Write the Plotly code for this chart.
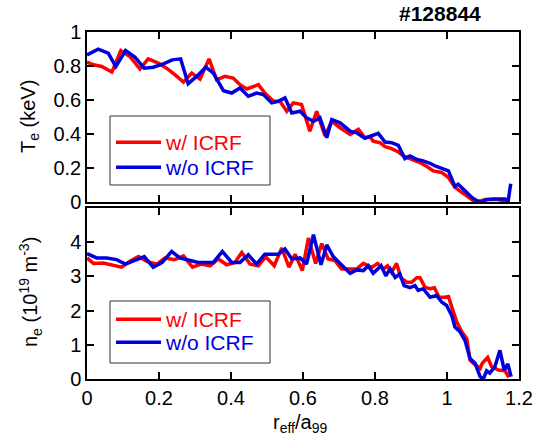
import plotly.graph_objects as go

# ---- data ----
te_red_x = [0, .018, .041, .069, .094, .119, .147, .170, .198, .221, .244, .268, .291, .314, .339, .360, .383, .406, .425, .444,
            .476, .494, .518, .536, .555, .573, .596, .619, .638, .661, .680, .703, .731, .754, .772, .786, .795, .814, .828, .846,
            .865, .879, .902, .925, .944, .962, .985, 1.004, 1.022, 1.041, 1.059, 1.073, 1.087, 1.106, 1.143, 1.166]
te_red_y = [.823, .807, .797, .764, .891, .856, .782, .842, .817, .787, .749, .706, .758, .723, .842, .719, .739, .729, .690, .665,
            .690, .641, .592, .592, .534, .583, .573, .417, .534, .388, .475, .437, .398, .427, .378, .384, .358, .349, .326, .314,
            .294, .271, .251, .232, .209, .183, .174, .144, .086, .057, .027, .008, .002, .014, .014, 0.0]

te_blue_x = [0, .031, .059, .080, .107, .133, .159, .184, .212, .237, .260, .281, .307, .330, .351, .379, .402, .425, .448, .471,
             .490, .513, .531, .550, .569, .592, .610, .629, .647, .666, .680, .703, .731, .749, .772, .791, .809, .828, .846, .865,
             .883, .897, .916, .934, .953, .967, .985, 1.004, 1.022, 1.031, 1.050, 1.069, 1.083, 1.096, 1.110, 1.129, 1.161, 1.170, 1.177]
te_blue_y = [.865, .899, .875, .797, .891, .852, .787, .793, .813, .836, .842, .696, .743, .793, .758, .655, .641, .671, .622, .641,
             .632, .583, .592, .612, .524, .534, .495, .475, .495, .378, .485, .466, .417, .407, .375, .388, .404, .353, .349, .333,
             .255, .271, .251, .242, .228, .212, .197, .183, .092, .105, .066, .027, .008, 0.0, .014, .018, .018, .008, .108]

ne_red_x = [0, .018, .045, .069, .096, .119, .143, .166, .194, .217, .243, .268, .293, .317, .342, .365, .388, .411,
            .430, .453, .476, .496, .520, .541, .561, .578, .598, .615, .635, .652, .670, .689, .707, .731, .749, .768,
            .791, .807, .823, .835, .846, .860, .872, .888, .902, .916, .925, .939, .953, .965, .978, .994, 1.004, 1.015,
            1.027, 1.041, 1.055, 1.064, 1.073, 1.092, 1.098, 1.113, 1.124, 1.143, 1.161, 1.172]
ne_red_y = [3.54, 3.38, 3.39, 3.34, 3.27, 3.44, 3.58, 3.44, 3.36, 3.54, 3.49, 3.60, 3.27, 3.36, 3.31, 3.51, 3.34, 3.41,
            3.70, 3.36, 3.31, 3.58, 3.31, 3.83, 3.27, 3.65, 3.17, 4.12, 3.38, 3.96, 3.51, 3.46, 3.22, 3.22, 3.22, 3.38,
            3.26, 3.38, 3.22, 3.31, 3.12, 3.38, 2.96, 2.83, 2.83, 2.96, 2.96, 2.68, 2.64, 2.67, 2.39, 2.39, 2.41, 2.05,
            1.67, 1.38, 1.18, 0.55, 0.46, 0.31, 0.46, 0.63, 0.36, 0.26, 0.24, 0.05]

ne_blue_x = [0, .027, .055, .082, .107, .133, .159, .184, .209, .235, .258, .281, .309, .351, .376, .402,
             .425, .448, .471, .494, .531, .550, .569, .592, .610, .629, .650, .666, .684, .703, .731, .749, .768,
             .781, .795, .817, .830, .842, .856, .869, .881, .897, .911, .920, .934, .953, .971, .985, .999, 1.013,
             1.022, 1.036, 1.050, 1.064, 1.078, 1.092, 1.101, 1.110, 1.119, 1.133, 1.147, 1.159, 1.169, 1.178]
ne_blue_y = [3.67, 3.54, 3.54, 3.49, 3.36, 3.48, 3.58, 3.27, 3.41, 3.73, 3.54, 3.48, 3.41, 3.41, 3.73, 3.41,
             3.41, 3.63, 3.36, 3.65, 3.65, 3.80, 3.51, 3.54, 3.36, 4.22, 3.34, 3.92, 3.58, 3.38, 3.09, 3.19, 3.17,
             3.31, 3.09, 3.31, 3.02, 3.22, 2.97, 3.07, 2.73, 2.67, 2.73, 2.59, 2.64, 2.39, 2.44, 2.25, 2.15, 1.86,
             1.52, 1.38, 1.13, 0.60, 0.46, 0.07, 0.0, 0.24, 0.17, 0.36, 0.84, 0.26, 0.44, 0.07]

x_ticks = [0, 0.2, 0.4, 0.6, 0.8, 1.0, 1.2]
x_ticklabels = ["0", "0.2", "0.4", "0.6", "0.8", "1", "1.2"]
te_ticks = [0, 0.2, 0.4, 0.6, 0.8, 1.0]
te_ticklabels = ["0", "0.2", "0.4", "0.6", "0.8", "1"]
ne_ticks = [0, 1, 2, 3, 4]
ne_ticklabels = ["0", "1", "2", "3", "4"]

label_red = "w/ ICRF"
label_blue = "w/o ICRF"
shot = "#128844"

RED = "#ff0000"
BLUE = "#0000dd"
FONT = "Liberation Sans"

# plot-area geometry in pixels
W, H = 533, 444
L, R, T, B = 87, 519, 32, 379

fig = go.Figure()
fig.add_trace(go.Scatter(x=te_red_x, y=te_red_y, mode="lines", line=dict(color=RED, width=3.5),
                         name=f"<span style='color:{RED}'>{label_red}</span>", xaxis="x", yaxis="y", legend="legend"))
fig.add_trace(go.Scatter(x=te_blue_x, y=te_blue_y, mode="lines", line=dict(color=BLUE, width=3.5),
                         name=f"<span style='color:{BLUE}'>{label_blue}</span>", xaxis="x", yaxis="y", legend="legend2"))
fig.add_trace(go.Scatter(x=ne_red_x, y=ne_red_y, mode="lines", line=dict(color=RED, width=3.5),
                         name=f"<span style='color:{RED}'>{label_red}</span>", xaxis="x2", yaxis="y2", legend="legend3"))
fig.add_trace(go.Scatter(x=ne_blue_x, y=ne_blue_y, mode="lines", line=dict(color=BLUE, width=3.5),
                         name=f"<span style='color:{BLUE}'>{label_blue}</span>", xaxis="x2", yaxis="y2", legend="legend4"))

axis_common = dict(showline=True, linecolor="black", linewidth=1.5, mirror="ticks", ticks="inside",
                   ticklen=7, tickwidth=1.5, tickcolor="black", showgrid=False, zeroline=False, automargin=False,
                   tickfont=dict(family=FONT, size=20, color="black"))

legend_common = dict(bgcolor="rgba(0,0,0,0)", borderwidth=0,
                     font=dict(family=FONT, size=21), itemwidth=45, tracegroupgap=0,
                     xanchor="left", yanchor="top")


def px_x(p):
    return (p - L) / float(R - L)


def px_y(p):
    return (B - p) / float(B - T)


def legend_box(top, bottom):
    return dict(type="rect", xref="paper", yref="paper", x0=px_x(110), x1=px_x(270), y0=px_y(bottom), y1=px_y(top),
                line=dict(color="#333333", width=1), fillcolor="white", layer="above")


LEG_X = px_x(111)

fig.update_layout(
    width=W, height=H,
    margin=dict(l=L, r=W - R, t=T, b=H - B, autoexpand=False),
    paper_bgcolor="white", plot_bgcolor="white",
    showlegend=True,
    xaxis=dict(domain=[0, 1], range=[0, 1.2], anchor="y", tickvals=x_ticks, showticklabels=False, **axis_common),
    yaxis=dict(domain=[px_y(202), 1.0], range=[0, 1.0], anchor="x", tickvals=te_ticks, ticktext=te_ticklabels, **axis_common),
    xaxis2=dict(domain=[0, 1], range=[0, 1.2], anchor="y2", tickvals=x_ticks, ticktext=x_ticklabels, **axis_common),
    yaxis2=dict(domain=[0, px_y(208)], range=[0, 5.0], anchor="x2", tickvals=ne_ticks, ticktext=ne_ticklabels, **axis_common),
    legend=dict(x=LEG_X, y=px_y(122), **legend_common),
    legend2=dict(x=LEG_X, y=px_y(147), **legend_common),
    legend3=dict(x=LEG_X, y=px_y(299), **legend_common),
    legend4=dict(x=LEG_X, y=px_y(322), **legend_common),
    shapes=[legend_box(116, 185), legend_box(301, 363)],
    annotations=[
        dict(text=f"<b>{shot}</b>", x=px_x(440), y=px_y(14), xref="paper", yref="paper", showarrow=False,
             xanchor="center", yanchor="middle", font=dict(family=FONT, size=21, color="black")),
        dict(text="T<sub>e</sub> (keV)", x=px_x(30), y=px_y(117), xref="paper", yref="paper", showarrow=False,
             textangle=-90, xanchor="center", yanchor="middle", font=dict(family=FONT, size=20, color="black")),
        dict(text="n<sub>e</sub> (10<sup>19</sup> m<sup>-3</sup>)", x=px_x(30), y=px_y(292), xref="paper", yref="paper",
             showarrow=False, textangle=-90, xanchor="center", yanchor="middle",
             font=dict(family=FONT, size=20, color="black")),
        dict(text="r<sub>eff</sub>/a<sub>99</sub>", x=px_x(300), y=px_y(423), xref="paper", yref="paper", showarrow=False,
             xanchor="center", yanchor="middle", font=dict(family=FONT, size=20, color="black")),
    ],
)

fig.write_html("out.html", config={"displayModeBar": False},
               post_script="document.body.style.margin='0';document.body.style.padding='0';")
